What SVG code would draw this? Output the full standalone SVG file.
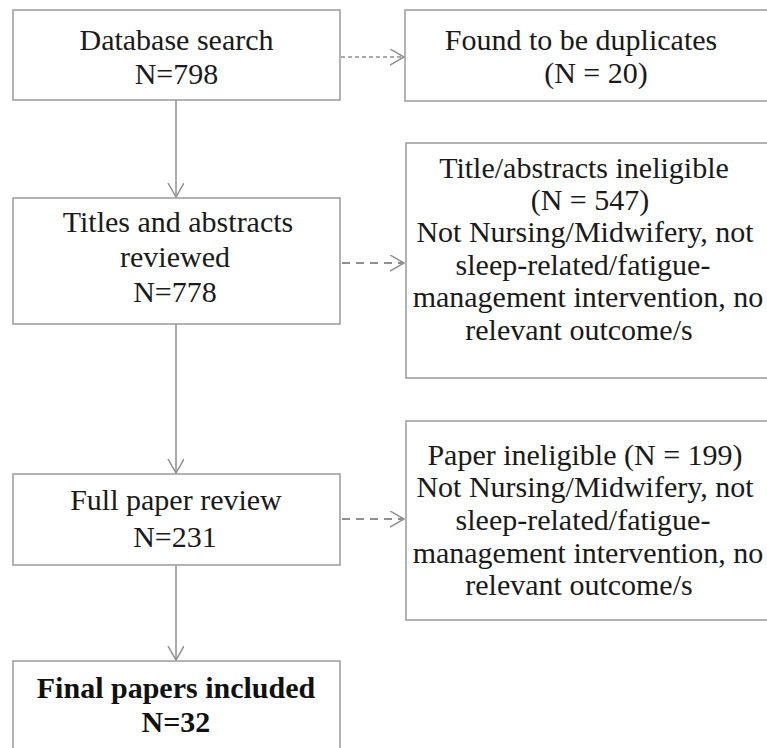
<svg xmlns="http://www.w3.org/2000/svg" width="767" height="748" viewBox="0 0 767 748">
<style>
.box{fill:#fff;stroke:#9a9a9a;stroke-width:1.5}
.t{font-family:"Liberation Serif","Times New Roman",serif;font-size:30px;fill:#1a1a1a;text-anchor:middle}
.b{font-weight:bold;fill:#111}
.ln{stroke:#8f8f8f;stroke-width:1.5;fill:none}
.d1{stroke-dasharray:4 3}
.d2{stroke-dasharray:8 6;stroke-width:2}
</style>
<defs>
<marker id="ah" markerWidth="20" markerHeight="20" refX="14" refY="8" orient="auto" markerUnits="userSpaceOnUse">
<path d="M0,0 L14,8 L0,16" fill="none" stroke="#8f8f8f" stroke-width="1.5"/>
</marker>
</defs>
<rect width="767" height="748" fill="#fff"/>
<g id="connectors">
<line class="ln" x1="176" y1="100" x2="176" y2="197" marker-end="url(#ah)"/>
<line class="ln" x1="176" y1="324" x2="176" y2="473" marker-end="url(#ah)"/>
<line class="ln" x1="176" y1="565" x2="176" y2="660" marker-end="url(#ah)"/>
<line class="ln d1" x1="341" y1="57" x2="404" y2="57" marker-end="url(#ah)"/>
<line class="ln d2" x1="342" y1="263" x2="404" y2="263" marker-end="url(#ah)"/>
<line class="ln d2" x1="342" y1="519" x2="404" y2="519" marker-end="url(#ah)"/>
</g>
<g id="n1">
<rect class="box" x="13" y="10" width="327" height="90"/>
<text class="t" x="176.5" y="50">Database search</text>
<text class="t" x="176.5" y="84">N=798</text>
</g>
<g id="n2">
<rect class="box" x="405" y="10" width="380" height="91"/>
<text class="t" x="581" y="50">Found to be duplicates</text>
<text class="t" x="596" y="83">(N = 20)</text>
</g>
<g id="n3">
<rect class="box" x="13" y="198" width="327" height="126"/>
<text class="t" x="178" y="232">Titles and abstracts</text>
<text class="t" x="175" y="267">reviewed</text>
<text class="t" x="175" y="302">N=778</text>
</g>
<g id="n4">
<rect class="box" x="406" y="143" width="380" height="235"/>
<text class="t" x="584" y="178">Title/abstracts ineligible</text>
<text class="t" x="590" y="210">(N = 547)</text>
<text class="t" x="585" y="242">Not Nursing/Midwifery, not</text>
<text class="t" x="583" y="275">sleep-related/fatigue-</text>
<text class="t" x="588" y="307">management intervention, no</text>
<text class="t" x="579" y="340">relevant outcome/s</text>
</g>
<g id="n5">
<rect class="box" x="13" y="474" width="327" height="91"/>
<text class="t" x="176" y="510">Full paper review</text>
<text class="t" x="175" y="547">N=231</text>
</g>
<g id="n6">
<rect class="box" x="406" y="421" width="380" height="199"/>
<text class="t" x="585" y="465">Paper ineligible (N = 199)</text>
<text class="t" x="585" y="497">Not Nursing/Midwifery, not</text>
<text class="t" x="583" y="530">sleep-related/fatigue-</text>
<text class="t" x="588" y="563">management intervention, no</text>
<text class="t" x="579" y="595">relevant outcome/s</text>
</g>
<g id="n7">
<rect class="box" x="13" y="661" width="327" height="100"/>
<text class="t b" x="176" y="698">Final papers included</text>
<text class="t b" x="176" y="732">N=32</text>
</g>
</svg>
